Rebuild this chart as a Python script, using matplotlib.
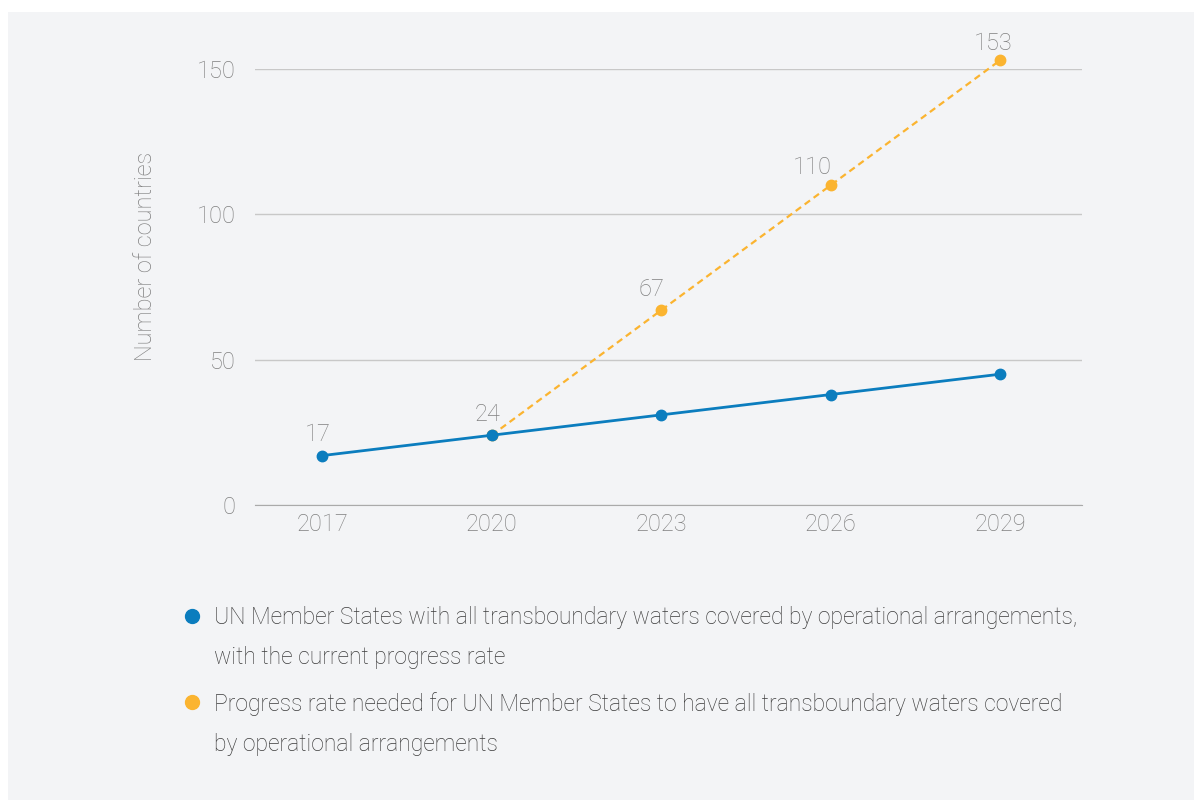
import matplotlib.pyplot as plt
from matplotlib.patches import Rectangle
from matplotlib.lines import Line2D

plt.rcParams['font.family'] = ['Roboto', 'DejaVu Sans']
plt.rcParams['font.weight'] = 'light'

years = [2017, 2020, 2023, 2026, 2029]
current = [17, 24, 31, 38, 45]
needed_years = [2020, 2023, 2026, 2029]
needed = [24, 67, 110, 153]
yticks = [0, 50, 100, 150]

blue = '#0b7dbe'
yellow = '#fbb430'
grey_txt = '#808080'
bg = '#f3f4f6'

fig = plt.figure(figsize=(11.94, 8), dpi=100)
fig.patch.set_facecolor('white')
fig.patches.append(Rectangle((8 / 1194, 0), 1, 1 - 12 / 800, transform=fig.transFigure,
                             facecolor=bg, edgecolor='none', zorder=-10))

ax = fig.add_axes([255 / 1194, 1 - 505 / 800, (1082 - 255) / 1194, (505 - 69) / 800])
ax.patch.set_alpha(0)

ax.plot(years, current, color=blue, lw=2, marker='o', ms=7.5, clip_on=False, zorder=3)
ax.plot(needed_years, needed, color=yellow, lw=1.6, ls=(0, (3, 2)), marker='o', ms=7.5,
        clip_on=False, zorder=2)

# data labels (offsets in pixels, label centre relative to point)
labels = [(2017, 17, -4, 21), (2020, 24, -4, 21), (2023, 67, -10, 21),
          (2026, 110, -18, 18), (2029, 153, -7, 17)]
for x, y, dx, dy in labels:
    ax.annotate(str(y), (x, y), xytext=(dx * 0.72, dy * 0.72), textcoords='offset points',
                ha='center', va='center', fontsize=17, color=grey_txt, annotation_clip=False)

ax.set_xlim(2015.81, 2030.45)
ax.set_ylim(0, 150)
ax.set_xticks(years)
ax.set_yticks(yticks)
ax.grid(axis='y', color='#c8c8c8', lw=1)
ax.set_axisbelow(True)
for s in ['top', 'right', 'left']:
    ax.spines[s].set_visible(False)
ax.spines['bottom'].set_color('#aaaaaa')
ax.tick_params(length=0, labelsize=17, labelcolor=grey_txt)
ax.tick_params(axis='y', pad=14)
ax.tick_params(axis='x', pad=6)
ax.set_ylabel('Number of countries', fontsize=17, color=grey_txt, fontweight='light')
ax.yaxis.set_label_coords(-0.118, 0.571)

# legend
legend_items = [
    (blue, 'UN Member States with all transboundary waters covered by operational arrangements,\nwith the current progress rate', 616),
    (yellow, 'Progress rate needed for UN Member States to have all transboundary waters covered\nby operational arrangements', 702),
]
for col, txt, ypix in legend_items:
    fig.add_artist(Line2D([192 / 1194], [1 - ypix / 800], marker='o', ms=10, color=col,
                          ls='none', transform=fig.transFigure))
    fig.text(214 / 1194, 1 - (ypix - 10) / 800, txt, fontsize=16.5, color='#3c3c3c',
             va='top', ha='left', linespacing=1.93)

fig.savefig('out.png', dpi=100, facecolor=fig.get_facecolor())
